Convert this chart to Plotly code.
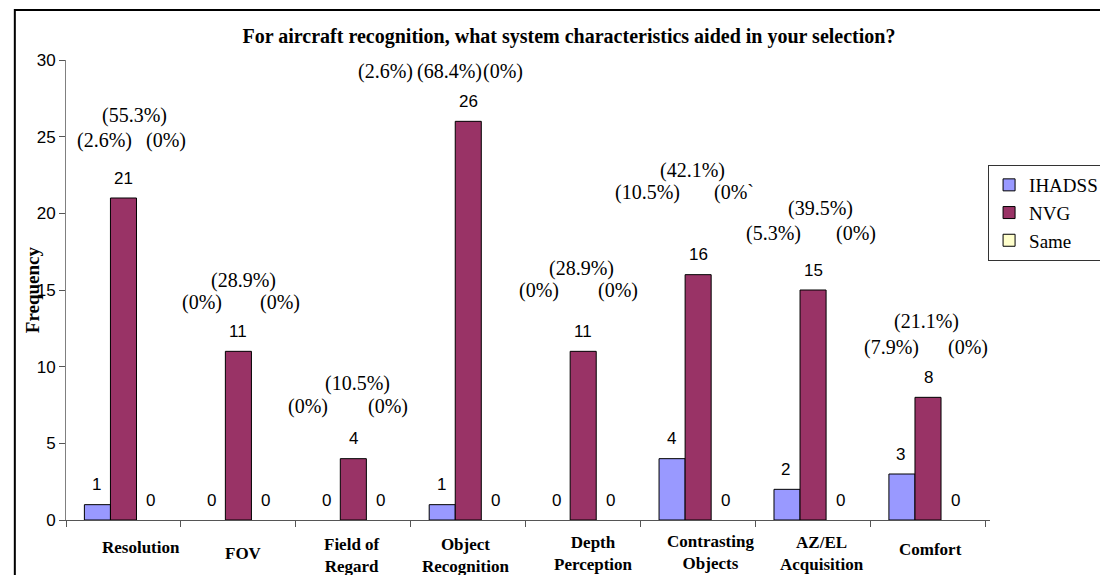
import plotly.graph_objects as go

# ---------------- data ----------------
categories = ["Resolution", "FOV", "Field of Regard", "Object Recognition",
              "Depth Perception", "Contrasting Objects", "AZ/EL Acquisition", "Comfort"]
category_labels = ["Resolution", "FOV", "Field of<br>Regard", "Object<br>Recognition",
                   "Depth<br>Perception", "Contrasting<br>Objects", "AZ/EL<br>Acquisition", "Comfort"]
ihadss = [1, 0, 0, 1, 0, 4, 2, 3]
nvg = [21, 11, 4, 26, 11, 16, 15, 8]
same = [0, 0, 0, 0, 0, 0, 0, 0]
pct_ihadss = ["(2.6%)", "(0%)", "(0%)", "(2.6%)", "(0%)", "(10.5%)", "(5.3%)", "(7.9%)"]
pct_nvg = ["(55.3%)", "(28.9%)", "(10.5%)", "(68.4%)", "(28.9%)", "(42.1%)", "(39.5%)", "(21.1%)"]
pct_same = ["(0%)", "(0%)", "(0%)", "(0%)", "(0%)", "(0%`", "(0%)", "(0%)"]
y_ticks = [0, 5, 10, 15, 20, 25, 30]

# ---------------- layout / style ----------------
W, H = 1108, 575
L, R, T, B = 58, 93, 52, 63
PW, PH = W - L - R, H - T - B
YMAX = 30
PPU = PH / YMAX  # pixels per unit

COL = {"IHADSS": "#9999FF", "NVG": "#993366", "Same": "#FFFFCC"}
SERIF = "Liberation Serif, Times New Roman, serif"
SANS = "Liberation Sans, Arial, sans-serif"

# percentage label placement (pixel offsets from group centre; pixel rows)
pct_dx = [(-19, 11, 43), (-36, 5, 42), (-45, 4, 35), (-83, -19, 35),
          (-44, -2, 35), (-51, -6, 36), (-40, 7, 43), (-37, -2, 40)]
pct_rows = [(107, 132), (272, 294), (375, 398), (63, 63),
            (260, 282), (162, 184), (200, 225), (313, 339)]
# x-axis label placement (pixel offset, pixel centre row)
lab_dx = [18, 5, -1, -3, 10, 12, 9, 2]
lab_y = [539, 545, 547, 547, 545, 544, 545, 541]

fig = go.Figure()
series = [("IHADSS", ihadss), ("NVG", nvg), ("Same", same)]
for name, vals in series:
    # data bars (zero-height bars get no outline), kept out of the legend
    fig.add_trace(go.Bar(
        name=name, x=categories, y=vals, offsetgroup=name, showlegend=False,
        marker=dict(color=COL[name],
                    line=dict(color="black", width=[1 if v > 0 else 0 for v in vals])),
    ))
for name, vals in series:
    # legend entries sharing the same slot
    fig.add_trace(go.Bar(
        name=name, x=categories, y=[None] * len(vals), offsetgroup=name, showlegend=True,
        marker=dict(color=COL[name], line=dict(color="black", width=1)),
        hoverinfo="skip",
    ))

ann = []
# value labels above bars
offs = {"IHADSS": -1, "NVG": 0, "Same": 1}
bar_w = PW / len(categories) * (1 - 0.32) / 3
for name, vals in series:
    for c, v in zip(categories, vals):
        ann.append(dict(x=c, y=v, xref="x", yref="y", text=str(v), showarrow=False,
                        xshift=offs[name] * bar_w, yshift=20, yanchor="middle",
                        font=dict(family=SANS, size=17, color="black")))

# percentage labels
for i, c in enumerate(categories):
    dxi, dxn, dxs = pct_dx[i]
    r_top, r_low = pct_rows[i]
    for txt, dx, row in [(pct_nvg[i], dxn, r_top), (pct_ihadss[i], dxi, r_low), (pct_same[i], dxs, r_low)]:
        ann.append(dict(x=c, y=(T + PH - row) / PPU, xref="x", yref="y", text=txt,
                        showarrow=False, xshift=dx, yanchor="middle",
                        font=dict(family=SERIF, size=20, color="black")))

# category labels
for i, c in enumerate(categories):
    ann.append(dict(x=c, y=0, xref="x", yref="paper", text="<b>" + category_labels[i] + "</b>",
                    showarrow=False, xshift=lab_dx[i], yshift=-(lab_y[i] - (T + PH)),
                    yanchor="middle", align="center",
                    font=dict(family=SERIF, size=17, color="black")))

# y-axis title
ann.append(dict(x=(23 - L) / PW, y=0.5, xref="paper", yref="paper", text="<b>Frequency</b>",
                textangle=-90, showarrow=False, xanchor="center", yanchor="middle",
                font=dict(family=SERIF, size=19, color="black")))

fig.update_layout(
    width=W, height=H,
    margin=dict(l=L, r=R, t=T, b=B),
    paper_bgcolor="white", plot_bgcolor="white",
    barmode="group", bargap=0.32, bargroupgap=0,
    title=dict(text="<b>For aircraft recognition, what system characteristics aided in your selection?</b>",
               x=561 / W, xanchor="center", xref="container",
               y=1 - 28 / H, yanchor="middle", yref="container",
               font=dict(family=SERIF, size=20, color="black")),
    xaxis=dict(type="category", showgrid=False, zeroline=False, showline=True,
               linecolor="#555555", linewidth=1, ticks="outside", tickson="boundaries",
               ticklen=6, tickcolor="#555555", showticklabels=False),
    yaxis=dict(range=[0, YMAX], tickvals=y_ticks, showgrid=False, zeroline=False,
               showline=True, linecolor="#808080", linewidth=1, ticks="outside",
               ticklen=6, tickcolor="#555555",
               tickfont=dict(family=SANS, size=17, color="black")),
    legend=dict(x=(1013 - L) / PW, xanchor="left", y=(T + PH - 157) / PH, yanchor="top",
                bgcolor="white", bordercolor="#333333", borderwidth=1,
                font=dict(family=SERIF, size=19, color="black"), tracegroupgap=0),
    annotations=ann,
    shapes=[dict(type="rect", xref="paper", yref="paper",
                 x0=(5 - L) / PW, x1=1.3, y0=-0.5, y1=(T + PH - 2) / PH,
                 line=dict(color="black", width=2), fillcolor="rgba(0,0,0,0)", layer="below")],
    showlegend=True,
)

fig.write_html("out.html")
